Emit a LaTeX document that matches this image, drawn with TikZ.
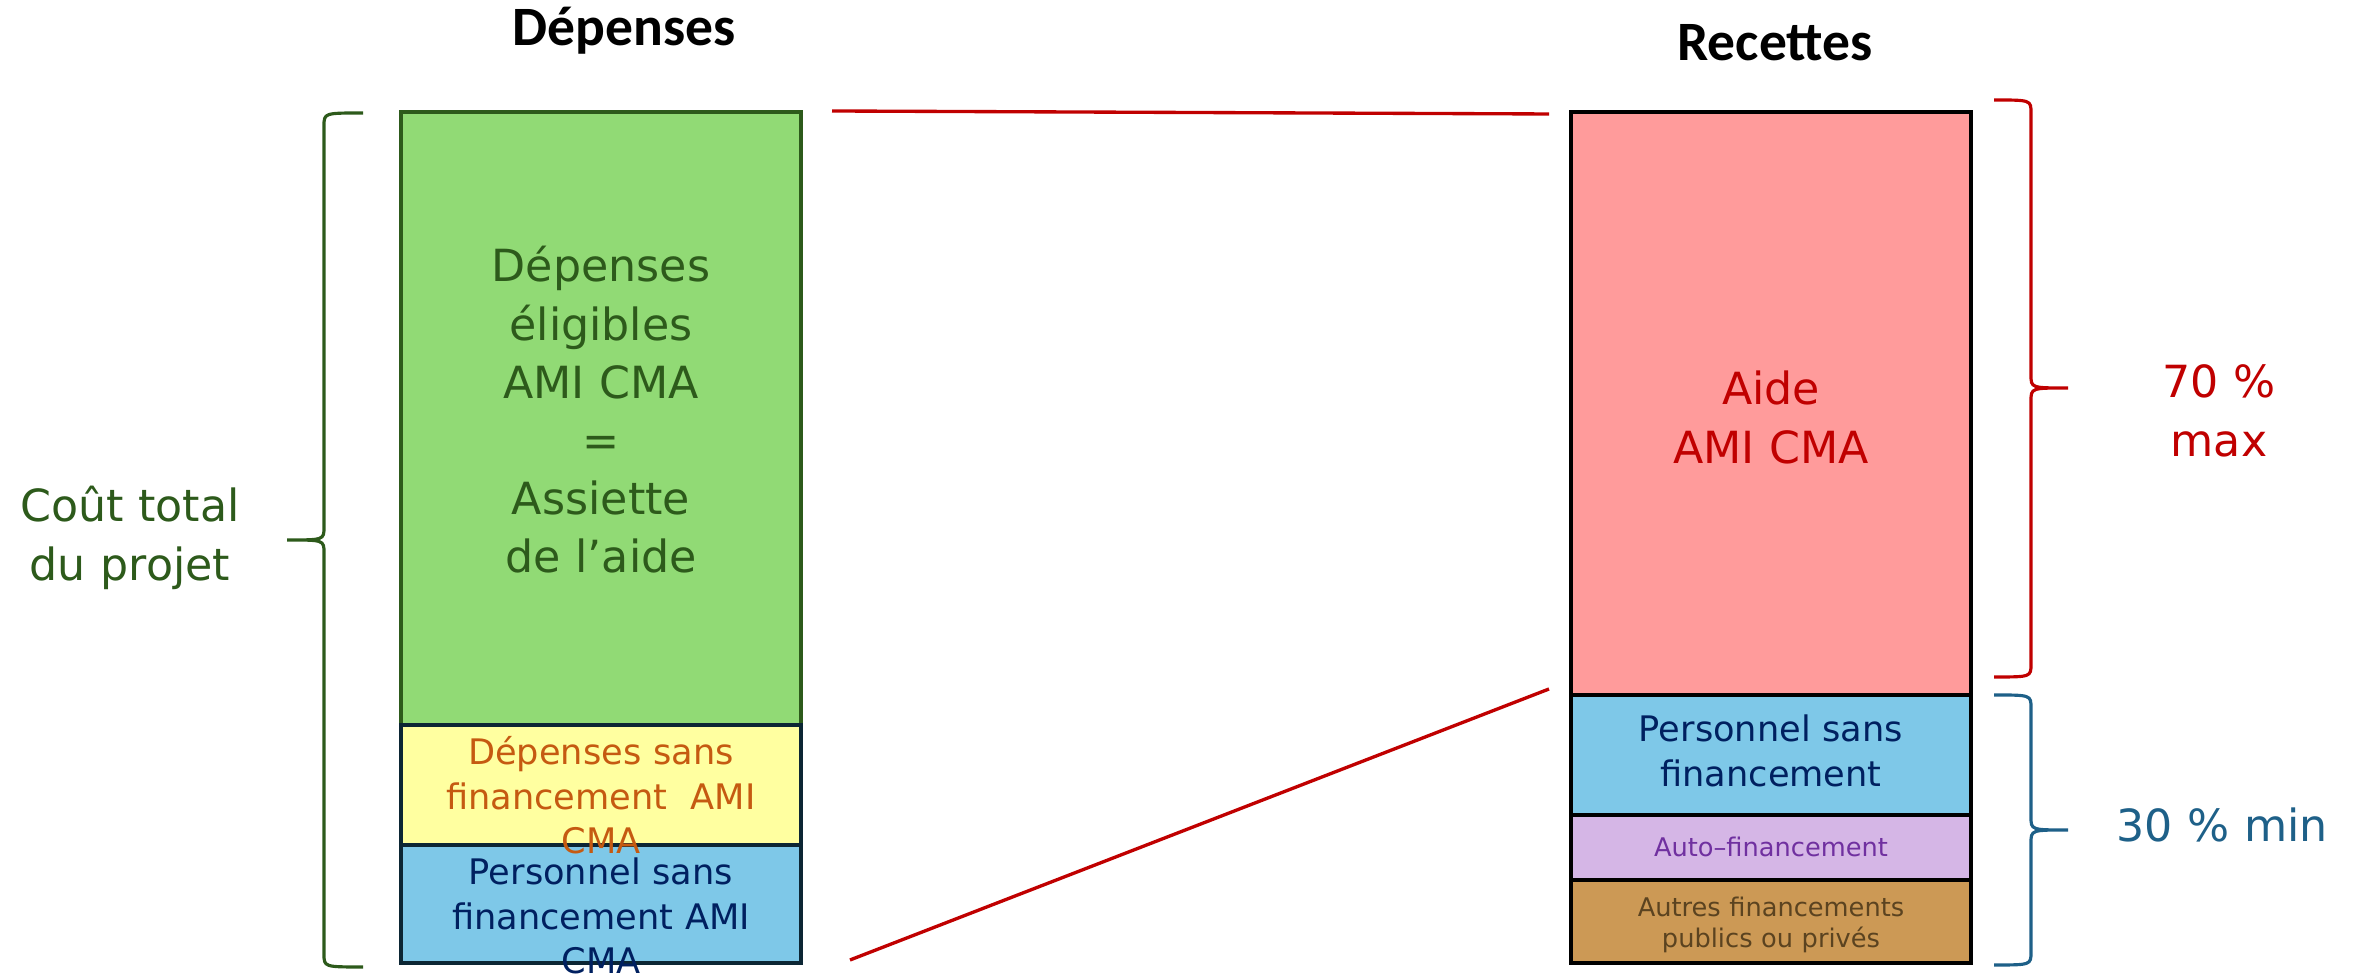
\documentclass[tikz,border=0pt]{standalone}
\usepackage{fontspec}
\setmainfont{DejaVu Sans}
\newfontfamily\headfont{Carlito}

% fills
\definecolor{fillgreen}{RGB}{145,218,117}
\definecolor{fillyellow}{RGB}{255,255,160}
\definecolor{fillblue}{RGB}{126,200,232}
\definecolor{fillpink}{RGB}{255,155,155}
\definecolor{fillpurple}{RGB}{213,182,230}
\definecolor{fillbrown}{RGB}{204,153,85}
% strokes and texts
\definecolor{darkgreen}{RGB}{45,90,27}
\definecolor{darknavy}{RGB}{12,38,52}
\definecolor{navytext}{RGB}{0,32,96}
\definecolor{orangetext}{RGB}{197,90,17}
\definecolor{redtext}{RGB}{192,0,0}
\definecolor{purpletext}{RGB}{112,48,160}
\definecolor{browntext}{RGB}{91,67,32}
\definecolor{tealtext}{RGB}{30,96,136}

% curly brace drawn along a vertical span:
% style, x of ends, x of spine, x of tip, y top, y middle, y bottom, curl length
\newcommand\sidebrace[8]{%
  \draw[#1] (#2,#5) .. controls (#3,#5) .. (#3,#5+#8)
    -- (#3,#6-#8) .. controls (#3,#6) .. (#4,#6)
    .. controls (#3,#6) .. (#3,#6+#8)
    -- (#3,#7-#8) .. controls (#3,#7) .. (#2,#7);}

\begin{document}
\begin{tikzpicture}[x=0.01cm,y=-0.01cm,
  box/.style={draw, line width=1.15pt, inner sep=0pt, outer sep=0pt, minimum width=4cm},
  txt/.style={anchor=base, align=center, inner sep=0pt, text width=3.9cm},
  bigtxt/.style={font=\fontsize{12.6}{16.5}\selectfont},
  midtxt/.style={font=\fontsize{10}{12.6}\selectfont},
  smalltxt/.style={font=\fontsize{7.3}{8.6}\selectfont},
  head/.style={anchor=base, inner sep=0pt, font=\headfont\bfseries\fontsize{15.8}{19}\selectfont},
  link/.style={draw=redtext, line width=0.95pt},
  bracestyle/.style={line width=0.9pt}
]
\useasboundingbox (0,0) rectangle (2356,977);

% column titles
\node[head] (hdep) at (624,46) {Dépenses};
\node[head] (hrec) at (1775,61) {Recettes};

% expenses column
\node[box, draw=darkgreen, fill=fillgreen, minimum height=6.13cm] (elig) at (601,418.5) {};
\node[box, draw=darknavy, fill=fillyellow, minimum height=1.20cm] (sansfin) at (601,785) {};
\node[box, draw=darknavy, fill=fillblue, minimum height=1.18cm] (persL) at (601,904) {};

% revenues column
\node[box, draw=black, fill=fillpink, minimum height=5.83cm] (aide) at (1771,403.5) {};
\node[box, draw=black, fill=fillblue, minimum height=1.20cm] (persR) at (1771,755) {};
\node[box, draw=black, fill=fillpurple, minimum height=0.65cm] (auto) at (1771,847.5) {};
\node[box, draw=black, fill=fillbrown, minimum height=0.83cm] (autres) at (1771,921.5) {};

% texts inside the blocks
\node[txt, bigtxt, text=darkgreen] (teligible) at (601,282)
  {Dépenses\\éligibles\\AMI CMA\\=\\Assiette\\de l’aide};
\node[txt, midtxt, text=orangetext] (tsansfin) at (601,765)
  {Dépenses sans\\financement\ \ AMI\\CMA};
\node[txt, midtxt, text=navytext] (tpersL) at (601,885)
  {Personnel sans\\financement AMI\\CMA};
\node[txt, bigtxt, text=redtext] (taide) at (1771,405) {Aide\\AMI CMA};
\node[txt, midtxt, text=navytext] (tpersR) at (1771,742) {Personnel sans\\financement};
\node[txt, smalltxt, text=purpletext] (tauto) at (1771,857) {Auto–financement};
\node[txt, smalltxt, text=browntext] (tautres) at (1771,917)
  {Autres financements\\publics ou privés};

% side labels
\node[txt, bigtxt, text=darkgreen, text width=3cm] (cout) at (130,522) {Coût total\\du projet};
\node[txt, bigtxt, text=redtext, text width=2cm] (max) at (2219,398) {70 \%\\max};
\node[txt, bigtxt, text=tealtext, text width=2.6cm] (min) at (2222,842) {30 \% min};

% braces
\sidebrace{bracestyle, draw=darkgreen}{363}{324}{287}{113}{540}{967}{13}
\sidebrace{bracestyle, draw=redtext}{1994}{2031}{2068}{100}{388}{677}{13}
\sidebrace{bracestyle, draw=tealtext}{1994}{2031}{2068}{695}{830}{965}{13}

% red guide lines between the columns
\coordinate (topL) at (832,111);
\coordinate (topR) at (1549,114);
\coordinate (botL) at (850,960);
\coordinate (botR) at (1549,689);
\draw[link] (topL) -- (topR);
\draw[link] (botL) -- (botR);
\end{tikzpicture}
\end{document}
